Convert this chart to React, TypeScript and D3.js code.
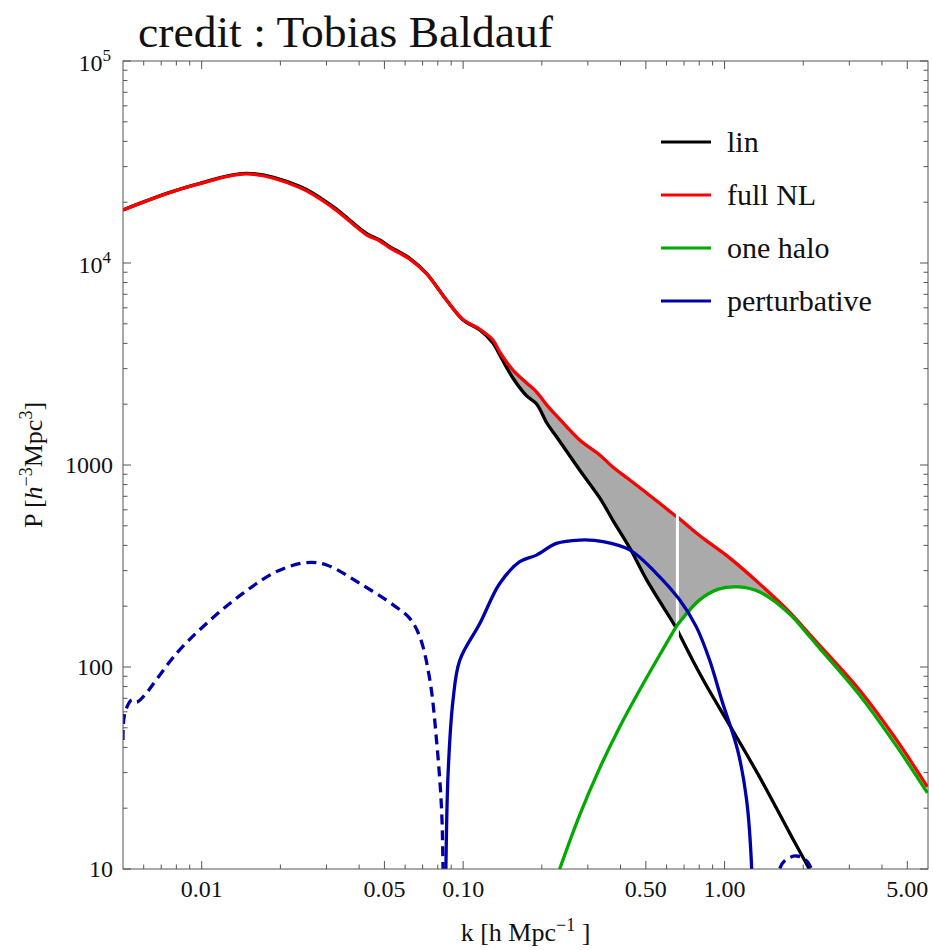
import React from "react";
import * as d3 from "d3";

// Matter power spectrum P(k): linear theory, full non-linear, one-halo term and perturbative correction
const kLin = [0.005, 0.00735, 0.00985, 0.01486, 0.0238, 0.0318, 0.0427, 0.048, 0.0524, 0.0625, 0.0724, 0.0863, 0.1, 0.1158, 0.13, 0.138, 0.155, 0.175, 0.191, 0.209, 0.228, 0.279, 0.333, 0.3735, 0.434, 0.5035, 0.644, 0.66, 0.755, 0.854, 1.045, 1.362, 1.773, 2.11];
const pLin = [18300, 22100, 24800, 27800, 23900, 19000, 14000, 13000, 12050, 10550, 8890, 6560, 5220, 4660, 4018, 3505, 2697, 2198, 2005, 1614, 1376, 944, 687, 534, 388, 270, 161, 152, 108, 80.5, 51.6, 28.5, 15.1, 10];

const kNL = [0.005, 0.00735, 0.00985, 0.01486, 0.0238, 0.0318, 0.0427, 0.048, 0.0524, 0.0625, 0.0724, 0.0863, 0.1, 0.1158, 0.13, 0.138, 0.155, 0.175, 0.191, 0.209, 0.228, 0.279, 0.333, 0.3735, 0.434, 0.5035, 0.644, 0.66, 0.755, 0.854, 1.045, 1.362, 1.773, 2.11, 2.309, 3.282, 4.467, 5.97];
const pNL = [18300, 22050, 24700, 27600, 23600, 18750, 13800, 12850, 11900, 10450, 8850, 6560, 5250, 4700, 4159, 3626, 2951, 2547, 2298, 1980, 1750, 1330, 1122, 977, 843, 727, 565, 553, 477, 421, 347, 258, 187, 145.5, 128, 76.9, 45, 25.5];

const kHalo = [0.234, 0.279, 0.333, 0.397, 0.4735, 0.5647, 0.66, 0.673, 0.803, 0.949, 1.131, 1.362, 1.773, 2.11, 2.309, 3.282, 4.467, 5.97];
const pHalo = [10, 18.5, 31.6, 50.5, 76.9, 114.6, 161.5, 167, 215, 243, 249, 235, 183, 142, 124, 72.7, 42, 23.8];

// perturbative term: |P| where negative (dashed), P where positive (solid)
const kPertNegLow = [0.005, 0.00508, 0.0054, 0.00564, 0.00598, 0.00802, 0.0108, 0.01441, 0.01935, 0.0252, 0.03005, 0.0403, 0.054, 0.0625, 0.0683, 0.0746, 0.0791, 0.0826, 0.0838, 0.0847];
const pPertNegLow = [43.5, 59, 68.7, 67, 71.3, 117, 171, 232, 297, 329, 320, 259, 203, 174, 141, 86.3, 43.5, 20.4, 10, 3];

const kPertPos = [0.0852, 0.0859, 0.0876, 0.0915, 0.0971, 0.1158, 0.138, 0.1647, 0.1906, 0.2273, 0.279, 0.343, 0.434, 0.548, 0.673, 0.78, 0.877, 0.975, 1.122, 1.214, 1.27, 1.29];
const pPertPos = [3, 10, 29.8, 68.7, 108, 164, 259, 332, 358, 409, 425, 418, 380, 291, 215, 158, 108, 68.7, 38.8, 22, 10, 3];

const kPertNegHigh = [1.58, 1.624, 1.711, 1.883, 2.04, 2.15, 2.2];
const pPertNegHigh = [7, 10, 11.1, 11.6, 11.1, 10, 8];

const kSplit = 0.66;

const xMajor = [0.01, 0.05, 0.1, 0.5, 1, 5];
const xMajorLabels = ["0.01", "0.05", "0.10", "0.50", "1.00", "5.00"];
const xMinor = [0.006, 0.007, 0.008, 0.009, 0.02, 0.03, 0.04, 0.06, 0.07, 0.08, 0.09, 0.2, 0.3, 0.4, 0.6, 0.7, 0.8, 0.9, 2, 3, 4];
const yMajor = [10, 100, 1000, 10000, 100000];

const legendItems = [
  { label: "lin", color: "#000000" },
  { label: "full NL", color: "#ff0000" },
  { label: "one halo", color: "#00aa00" },
  { label: "perturbative", color: "#0000aa" },
];

const FONT = "'Liberation Serif', 'Times New Roman', serif";
const AXIS = "#555555";
const LW = 3.3;

type Pt = [number, number];
const zip = (ks: number[], ps: number[]): Pt[] => ks.map((k, i) => [k, ps[i]]);

export default function App() {
  const x = d3.scaleLog().domain([0.005, 6]).range([123, 928]);
  const y = d3.scaleLog().domain([10, 1e5]).range([869, 61]);
  const [x0, x1] = x.range();
  const [y0, y1] = y.range();

  const line = d3
    .line<Pt>()
    .x((d) => x(d[0]))
    .y((d) => y(d[1]))
    .curve(d3.curveCatmullRom.alpha(0.5));

  const lin = zip(kLin, pLin);
  const nl = zip(kNL, pNL);
  const halo = zip(kHalo, pHalo);

  const band = (upper: Pt[], lower: Pt[]) => {
    const a = line(upper) as string;
    const b = line(lower.slice().reverse()) as string;
    return a + "L" + b.slice(1) + "Z";
  };
  const fillLow = band(
    nl.filter((d) => d[0] <= kSplit),
    lin.filter((d) => d[0] <= kSplit)
  );
  const fillHigh = band(
    nl.filter((d) => d[0] >= kSplit && d[0] <= 2.11),
    halo.filter((d) => d[0] >= kSplit && d[0] <= 2.11)
  );

  const nlAtSplit = pNL[kNL.indexOf(kSplit)];
  const linAtSplit = pLin[kLin.indexOf(kSplit)];

  // minor ticks on the P axis
  const yMinor: number[] = [];
  for (let e = 1; e < 5; e++) for (let m = 2; m <= 9; m++) yMinor.push(m * Math.pow(10, e));

  const majorLen = 8;
  const minorLen = 4.5;

  return (
    <svg
      width={933}
      height={950}
      style={{ position: "absolute", left: 0, top: 0, background: "#fff" }}
      fontFamily={FONT}
    >
      <rect x={0} y={0} width={933} height={950} fill="#fff" />
      <defs>
        <clipPath id="plot-area">
          <rect x={x0} y={y1} width={x1 - x0} height={y0 - y1} />
        </clipPath>
      </defs>

      {/* title */}
      <text x={138} y={47} fontSize={44} textLength={415} lengthAdjust="spacingAndGlyphs" fill="#111">
        credit : Tobias Baldauf
      </text>

      <g clipPath="url(#plot-area)">
        <path d={fillLow} fill="#aaaaaa" stroke="none" />
        <path d={fillHigh} fill="#aaaaaa" stroke="none" />
        <path d={line(lin) as string} fill="none" stroke="#000" strokeWidth={LW} />
        <path d={line(nl) as string} fill="none" stroke="#ff0000" strokeWidth={LW} />
        <line
          x1={x(kSplit)}
          x2={x(kSplit)}
          y1={y(nlAtSplit) - 4}
          y2={y(linAtSplit) + 9}
          stroke="#fff"
          strokeWidth={3}
        />
        <path d={line(halo) as string} fill="none" stroke="#00aa00" strokeWidth={LW} />
        <path
          d={line(zip(kPertNegLow, pPertNegLow)) as string}
          fill="none"
          stroke="#0000aa"
          strokeWidth={LW}
          strokeDasharray="10,6"
        />
        <path d={line(zip(kPertPos, pPertPos)) as string} fill="none" stroke="#0000aa" strokeWidth={LW} />
        <path
          d={line(zip(kPertNegHigh, pPertNegHigh)) as string}
          fill="none"
          stroke="#0000aa"
          strokeWidth={LW}
          strokeDasharray="10,6"
        />
      </g>

      {/* frame */}
      <rect x={x0} y={y1} width={x1 - x0} height={y0 - y1} fill="none" stroke={AXIS} strokeWidth={1} />

      {/* k ticks, bottom and top */}
      {xMajor.concat(xMinor).map((k, i) => {
        const len = i < xMajor.length ? majorLen : minorLen;
        const px = x(k);
        return (
          <g key={"xt" + i} stroke={AXIS} strokeWidth={1}>
            <line x1={px} x2={px} y1={y0} y2={y0 - len} />
            <line x1={px} x2={px} y1={y1} y2={y1 + len} />
          </g>
        );
      })}
      {xMajor.map((k, i) => (
        <text key={"xl" + i} x={x(k)} y={897} fontSize={24} textAnchor="middle" fill="#111">
          {xMajorLabels[i]}
        </text>
      ))}

      {/* P ticks, left and right */}
      {yMajor.concat(yMinor).map((p, i) => {
        const len = i < yMajor.length ? majorLen : minorLen;
        const py = y(p);
        return (
          <g key={"yt" + i} stroke={AXIS} strokeWidth={1}>
            <line x1={x0} x2={x0 + len} y1={py} y2={py} />
            <line x1={x1} x2={x1 - len} y1={py} y2={py} />
          </g>
        );
      })}
      {yMajor.map((p, i) => {
        const py = y(p);
        const exp = Math.round(Math.log10(p));
        if (exp >= 4) {
          return (
            <text key={"yl" + i} x={111} y={py + 10} fontSize={24} textAnchor="end" fill="#111">
              10
              <tspan fontSize={17} dy={-10}>
                {exp}
              </tspan>
            </text>
          );
        }
        return (
          <text key={"yl" + i} x={113} y={py + 8} fontSize={24} textAnchor="end" fill="#111">
            {String(p)}
          </text>
        );
      })}

      {/* axis titles */}
      <text x={(x0 + x1) / 2} y={941} fontSize={26} textAnchor="middle" fill="#111">
        k [h Mpc
        <tspan fontSize={18} dy={-10}>
          −1
        </tspan>
        <tspan dy={10}> ]</tspan>
      </text>
      <text
        transform={`translate(42, ${(y0 + y1) / 2}) rotate(-90)`}
        fontSize={26}
        textAnchor="middle"
        fill="#111"
      >
        P [<tspan fontStyle="italic">h</tspan>
        <tspan fontSize={18} dy={-10}>
          −3
        </tspan>
        <tspan dy={10}>Mpc</tspan>
        <tspan fontSize={18} dy={-10}>
          3
        </tspan>
        <tspan dy={10}>]</tspan>
      </text>

      {/* legend */}
      {legendItems.map((item, i) => {
        const ly = 142 + i * 53;
        return (
          <g key={"lg" + i}>
            <line x1={661} x2={711} y1={ly} y2={ly} stroke={item.color} strokeWidth={3} />
            <text x={727} y={ly + 10} fontSize={30} fill="#111">
              {item.label}
            </text>
          </g>
        );
      })}
    </svg>
  );
}
